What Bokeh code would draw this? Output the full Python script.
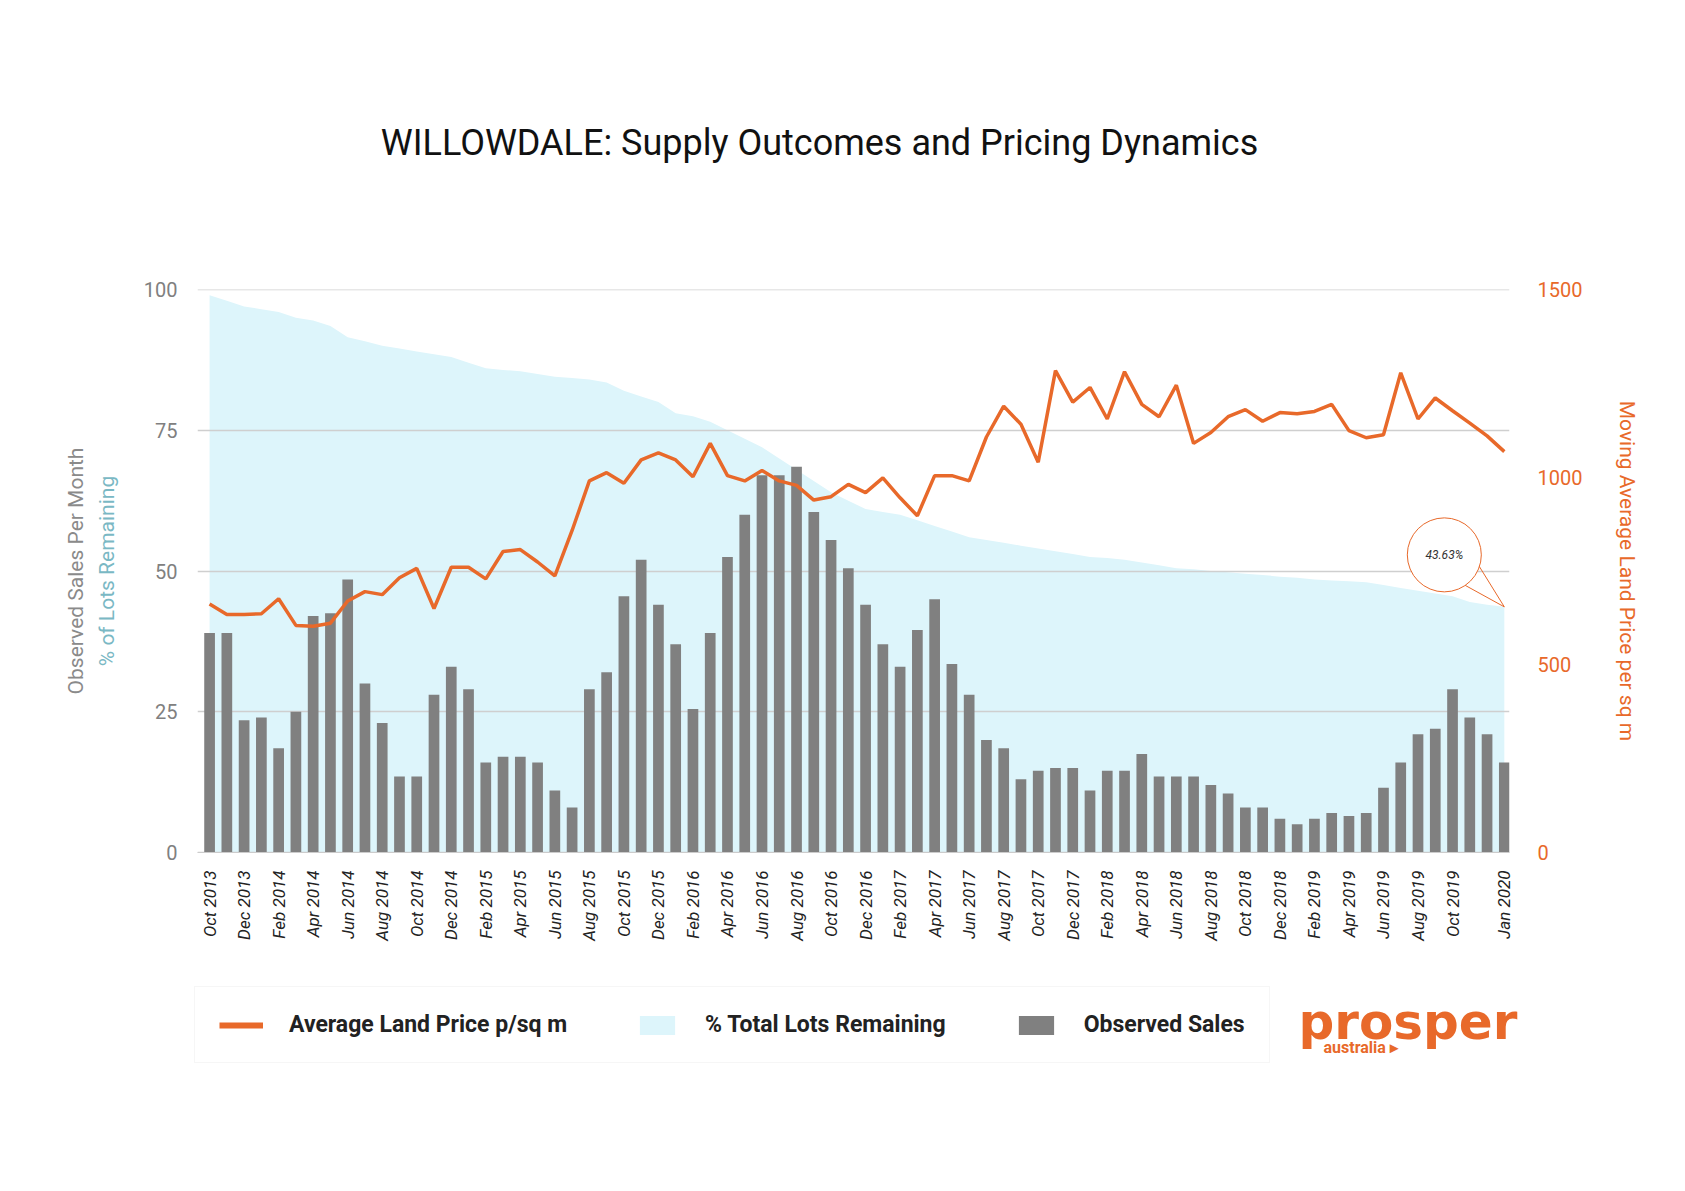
import math
from bokeh.plotting import figure
from bokeh.layouts import column
from bokeh.models import (ColumnDataSource, LinearAxis, Range1d, FixedTicker, Label,
                          Legend, LegendItem)
from bokeh.embed import file_html
from bokeh.resources import INLINE

month_names = ["Jan", "Feb", "Mar", "Apr", "May", "Jun", "Jul", "Aug", "Sep", "Oct", "Nov", "Dec"]
months = [f"{m} 2013" for m in month_names[9:]] + \
         [f"{m} {y}" for y in range(2014, 2020) for m in month_names] + ["Jan 2020"]

observed_sales = [39, 39, 23.5, 24, 18.5, 25, 42, 42.5, 48.5, 30, 23, 13.5, 13.5, 28, 33, 29,
                  16, 17, 17, 16, 11, 8, 29, 32, 45.5, 52, 44, 37, 25.5, 39, 52.5, 60, 67, 67,
                  68.5, 60.5, 55.5, 50.5, 44, 37, 33, 39.5, 45, 33.5, 28, 20, 18.5, 13, 14.5, 15,
                  15, 11, 14.5, 14.5, 17.5, 13.5, 13.5, 13.5, 12, 10.5, 8, 8, 6, 5, 6, 7, 6.5, 7,
                  11.5, 16, 21, 22, 29, 24, 21, 16]

lots_remaining = [99, 98, 97, 96.5, 96, 95, 94.5, 93.5, 91.5, 90.8, 90, 89.5, 89, 88.5, 88, 87,
                  86, 85.7, 85.5, 85, 84.5, 84.3, 84, 83.5, 82, 81, 80, 78, 77.5, 76.5, 75, 73.5,
                  72, 70, 68, 66, 64, 62.5, 61, 60.5, 60, 59, 58, 57, 56, 55.5, 55, 54.5, 54, 53.5,
                  53, 52.5, 52.3, 52, 51.5, 51, 50.5, 50.3, 50, 49.8, 49.5, 49.3, 49, 48.8, 48.5,
                  48.3, 48.2, 48, 47.5, 47, 46.5, 46, 45.5, 44.5, 44, 43.63]

land_price = [662, 634, 634, 636, 676, 605, 603, 611, 670, 695, 687, 732, 757, 650, 760, 760,
              729, 802, 807, 774, 737, 858, 990, 1012, 984, 1046, 1065, 1046, 1001, 1090, 1004,
              990, 1018, 990, 978, 939, 948, 981, 959, 998, 945, 897, 1004, 1004, 990, 1107,
              1189, 1141, 1040, 1284, 1200, 1239, 1155, 1281, 1194, 1161, 1245, 1090, 1119, 1161,
              1180, 1149, 1172, 1169, 1175, 1194, 1124, 1105, 1113, 1278, 1155, 1211, 1177, 1144,
              1110, 1068]

grid_values = [0, 25, 50, 75, 100]

idx = list(range(len(months)))
source = ColumnDataSource(dict(x=idx, sales=observed_sales, pct=lots_remaining, price=land_price))

FONT = "Roboto"
ORANGE = "#e8692a"
W = 1669
SHIFT = 196  # labels in the strips land this far right of where asked


def strip(height):
    f = figure(frame_width=W, frame_height=height, output_backend="svg", toolbar_location=None,
               x_range=Range1d(0, W), y_range=Range1d(0, height), outline_line_color=None,
               min_border_left=0, min_border_right=0, min_border_top=0, min_border_bottom=0,
               x_axis_type=None, y_axis_type=None)
    f.grid.visible = False
    return f


# ---- title strip
TH = 200
title_fig = strip(TH)
title_fig.add_layout(Label(x=818 - SHIFT, y=TH - 142, text="WILLOWDALE: Supply Outcomes and Pricing Dynamics",
                           text_align="center", text_baseline="middle", text_font=FONT,
                           text_font_size="36px", text_font_style="normal", text_color="#111111"))

# ---- main chart
H = 772
BL, BR, BT, BB = 197, 160, 89, 120
x0, x1 = -0.7, 75.3
p = figure(width=W, height=H, output_backend="svg", toolbar_location=None,
           x_range=Range1d(x0, x1), y_range=Range1d(0, 100),
           min_border_left=BL, min_border_right=BR, min_border_top=BT, min_border_bottom=BB,
           outline_line_color=None)
p.yaxis.visible = False
p.xaxis.visible = False
p.grid.visible = False
p.extra_y_ranges = {"price": Range1d(0, 1500)}

fw = W - BL - BR
fh = H - BT - BB
px_x = fw / (x1 - x0)
px_y = fh / 100.0

ax_pct = LinearAxis(axis_label="% of Lots Remaining", ticker=FixedTicker(ticks=grid_values))
ax_obs = LinearAxis(axis_label="Observed Sales Per Month", ticker=FixedTicker(ticks=[]))
for ax in (ax_pct, ax_obs):
    ax.axis_line_color = None
    ax.major_tick_line_color = None
    ax.minor_tick_line_color = None
    ax.major_label_text_font = FONT
    ax.axis_label_text_font = FONT
    ax.axis_label_text_font_style = "normal"
    ax.axis_label_text_font_size = "21px"
ax_pct.major_label_text_font_size = "20px"
ax_pct.major_label_text_color = "#808080"
ax_pct.major_label_standoff = 14
ax_pct.axis_label_text_color = "#7ab8c4"
ax_pct.axis_label_standoff = 22
ax_obs.axis_label_text_color = "#8a8a8a"
ax_obs.axis_label_standoff = 4
ax_obs.major_label_text_font_size = "0px"
p.add_layout(ax_pct, "left")
p.add_layout(ax_obs, "left")

ax_r = LinearAxis(y_range_name="price", axis_label="Moving Average Land Price per sq m",
                  ticker=FixedTicker(ticks=[0, 500, 1000, 1500]))
ax_r.axis_line_color = None
ax_r.major_tick_line_color = None
ax_r.minor_tick_line_color = None
ax_r.major_label_text_font = FONT
ax_r.major_label_text_font_size = "20px"
ax_r.major_label_text_color = ORANGE
ax_r.major_label_standoff = 22
ax_r.axis_label_text_font = FONT
ax_r.axis_label_text_font_style = "normal"
ax_r.axis_label_text_font_size = "21px"
ax_r.axis_label_text_color = ORANGE
ax_r.axis_label_standoff = 30
p.add_layout(ax_r, "right")

tick_idx = list(range(0, 73, 2)) + [75]
ax_x = LinearAxis(ticker=FixedTicker(ticks=tick_idx),
                  major_label_overrides={i: months[i] for i in tick_idx})
ax_x.axis_line_color = "#cccccc"
ax_x.major_tick_line_color = None
ax_x.minor_tick_line_color = None
ax_x.major_label_orientation = math.pi / 2
ax_x.major_label_text_font = FONT
ax_x.major_label_text_font_style = "italic"
ax_x.major_label_text_font_size = "17px"
ax_x.major_label_text_color = "#222222"
ax_x.major_label_standoff = 12
p.add_layout(ax_x, "below")

area = p.varea(x="x", y1=0, y2="pct", source=source, fill_color="#ddf5fb")
p.hspan(y=grid_values, line_color="#cfcfcf", line_width=1.5)
bars = p.vbar(x="x", top="sales", width=0.62, source=source, fill_color="#808080", line_color=None)
line = p.line(x="x", y="price", source=source, y_range_name="price", line_color=ORANGE, line_width=3.5)

# callout bubble for final value
last_x, last_y = idx[-1], lots_remaining[-1]
bx = last_x - 60 / px_x
by = last_y + 52 / px_y
p.segment(x0=[bx + 20 / px_x, bx + 34 / px_x], y0=[by - 30 / px_y, by - 10 / px_y],
          x1=[last_x, last_x], y1=[last_y, last_y], line_color=ORANGE, line_width=1)
p.scatter(x=[bx], y=[by], size=74, marker="circle", fill_color="white",
          line_color=ORANGE, line_width=1)
p.add_layout(Label(x=bx, y=by, text=f"{last_y:.2f}%", text_align="center", text_baseline="middle",
                   text_font=FONT, text_font_style="italic", text_font_size="12px", text_color="#333333"))

# ---- legend + logo strip
LH = 140
leg = strip(LH)
hidden = ColumnDataSource(dict(x=[-50, -40], y=[-50, -50], top=[-40, -40]))
r_line = leg.line(x="x", y="y", source=hidden, line_color=ORANGE, line_width=6)
r_area = leg.varea(x="x", y1="y", y2="top", source=hidden, fill_color="#ddf5fb")
r_bar = leg.vbar(x="x", top="top", bottom="y", width=5, source=hidden, fill_color="#808080", line_color=None)
legend = Legend(items=[LegendItem(label="Average Land Price p/sq m", renderers=[r_line]),
                       LegendItem(label="% Total Lots Remaining", renderers=[r_area]),
                       LegendItem(label="Observed Sales", renderers=[r_bar])],
                orientation="horizontal", location=(194, LH - 91),
                label_text_font=FONT, label_text_font_size="23px", label_text_font_style="bold",
                label_text_color="#222222", glyph_width=44, glyph_height=24, spacing=68,
                padding=24, margin=0, label_standoff=26,
                border_line_color="#eeeeee", background_fill_color="white", background_fill_alpha=1)
leg.add_layout(legend, "center")
leg.add_layout(Label(x=1297 - SHIFT, y=LH - 49, text="prosper",
                     text_font="DejaVu Sans", text_font_style="bold", text_font_size="50px",
                     text_color=ORANGE, text_baseline="alphabetic"))
leg.add_layout(Label(x=1322 - SHIFT, y=LH - 75, text="australia ▸",
                     text_font=FONT, text_font_style="bold", text_font_size="16px",
                     text_color=ORANGE, text_baseline="alphabetic"))

open("out.html", "w").write(file_html(column(title_fig, p, leg), INLINE))
